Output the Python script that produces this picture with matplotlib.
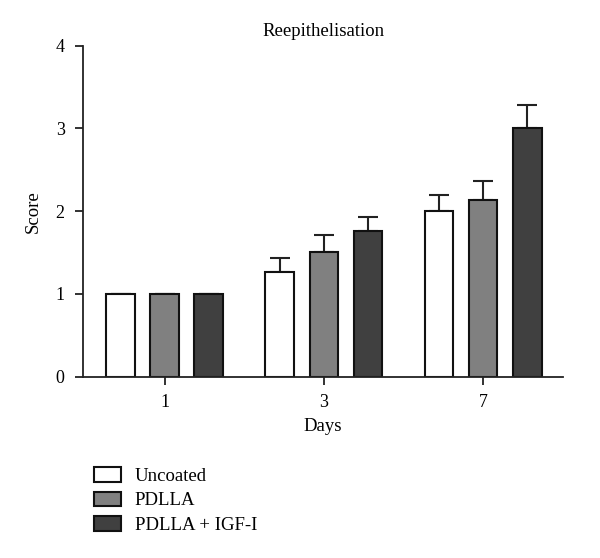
import numpy as np
import matplotlib.pyplot as plt

plt.rcParams['font.family'] = ['Liberation Serif', 'DejaVu Serif']

days = ['1', '3', '7']
groups = ['Uncoated', 'PDLLA', 'PDLLA + IGF-I']
means = {
    'Uncoated': [1.0, 1.27, 2.0],
    'PDLLA': [1.0, 1.51, 2.13],
    'PDLLA + IGF-I': [1.0, 1.76, 3.0],
}
errs = {
    'Uncoated': [0.0, 0.16, 0.20],
    'PDLLA': [0.0, 0.20, 0.23],
    'PDLLA + IGF-I': [0.0, 0.17, 0.28],
}
colors = ['white', '#808080', '#404040']

fig = plt.figure(figsize=(6, 5.58), dpi=100)
ax = fig.add_axes([0.139, 0.325, 0.799, 0.593])

x = np.arange(len(days))
offset = 0.277
width = 0.18
handles = []
for i, g in enumerate(groups):
    pos = x + (i - 1) * offset
    b = ax.bar(pos, means[g], width, color=colors[i], edgecolor='#111111',
               linewidth=1.5, label=g, zorder=2)
    handles.append(b)
    e = np.array(errs[g])
    ax.errorbar(pos, means[g], yerr=[np.zeros_like(e), e], fmt='none',
                ecolor='#222222', elinewidth=1.5, capsize=7.5, capthick=1.5,
                zorder=1)

ax.set_xlim(-0.51, 2.50)
ax.set_ylim(0, 4)
ax.set_yticks([0, 1, 2, 3, 4])
ax.set_xticks(x)
ax.set_xticklabels(days)
ax.spines['top'].set_visible(False)
ax.spines['right'].set_visible(False)
for s in ['left', 'bottom']:
    ax.spines[s].set_linewidth(1.3)
    ax.spines[s].set_color('#222222')
ax.tick_params(axis='both', labelsize=13, width=1.3, length=5.5, color='#222222')
ax.tick_params(axis='x', pad=7)
ax.tick_params(axis='y', pad=8)

ax.set_title('Reepithelisation', fontsize=13.5, pad=7)
ax.set_xlabel('Days', fontsize=13.5, labelpad=5)
ax.set_ylabel('Score', fontsize=13.5, labelpad=10)

fig.legend(handles=handles, labels=groups, loc='upper left',
           bbox_to_anchor=(0.157, 0.163), frameon=False, fontsize=13.5,
           handlelength=1.45, handleheight=0.82, handletextpad=0.7,
           labelspacing=0.36, borderpad=0, borderaxespad=0)

fig.savefig('out.png', dpi=100)
